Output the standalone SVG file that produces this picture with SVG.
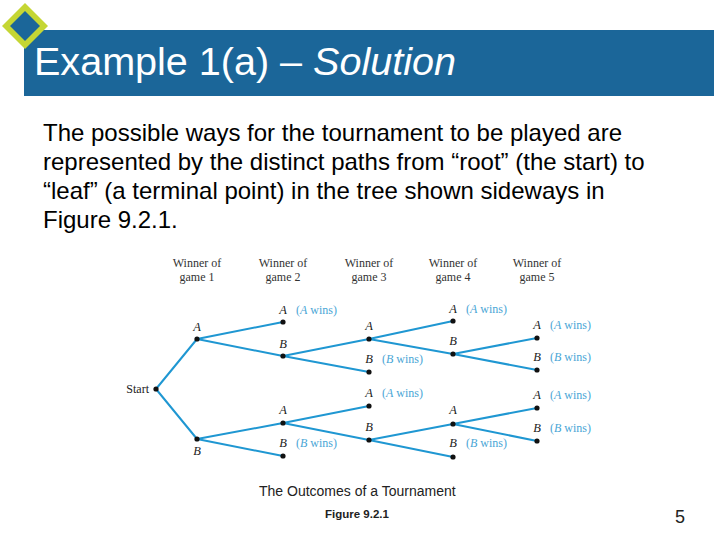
<svg xmlns="http://www.w3.org/2000/svg" width="720" height="540" viewBox="0 0 720 540">
<style>
.title{font-family:"Liberation Sans",Arial,sans-serif;font-size:38px;fill:#fff}
.body{font-family:"Liberation Sans",Arial,sans-serif;font-size:24px;fill:#000}
.hdr{font-family:"Liberation Serif","Times New Roman",serif;font-size:12px;fill:#333;text-anchor:middle}
.lbl{font-family:"Liberation Serif","Times New Roman",serif;font-size:12.5px;font-style:italic;fill:#222;text-anchor:middle}
.win{font-family:"Liberation Serif","Times New Roman",serif;font-size:12px;fill:#4aa6d6}
.win tspan{font-style:italic}
.edge{stroke:#1f97d2;stroke-width:2;fill:none;stroke-linecap:round}
.dot{fill:#111}
.cap{font-family:"Liberation Sans",Arial,sans-serif;fill:#222}
</style>
<rect width="720" height="540" fill="#fff"/>
<g id="header">
<rect x="24" y="30" width="690" height="66" fill="#1b6699"/>
<polygon points="25,3 48,26 25,49 2,26" fill="#c5d634"/>
<polygon points="25,11 40,26 25,41 10,26" fill="#1b6699"/>
<text class="title" x="34" y="75" textLength="422" lengthAdjust="spacingAndGlyphs">Example 1(a) – <tspan font-style="italic">Solution</tspan></text>
</g>
<g id="body-text">
<text class="body" x="43" y="141">The possible ways for the tournament to be played are</text>
<text class="body" x="43" y="170">represented by the distinct paths from “root” (the start) to</text>
<text class="body" x="43" y="199">“leaf” (a terminal point) in the tree shown sideways in</text>
<text class="body" x="43" y="228">Figure 9.2.1.</text>
</g>
<g id="column-headers">
<text class="hdr" x="197" y="267">Winner of</text><text class="hdr" x="197" y="281">game 1</text>
<text class="hdr" x="283" y="267">Winner of</text><text class="hdr" x="283" y="281">game 2</text>
<text class="hdr" x="369" y="267">Winner of</text><text class="hdr" x="369" y="281">game 3</text>
<text class="hdr" x="453" y="267">Winner of</text><text class="hdr" x="453" y="281">game 4</text>
<text class="hdr" x="537" y="267">Winner of</text><text class="hdr" x="537" y="281">game 5</text>
</g>
<g id="connectors">
<line class="edge" x1="156" y1="389" x2="197" y2="339"/>
<line class="edge" x1="156" y1="389" x2="197" y2="439"/>
<line class="edge" x1="197" y1="339" x2="283" y2="322"/>
<line class="edge" x1="197" y1="339" x2="283" y2="356"/>
<line class="edge" x1="197" y1="439" x2="283" y2="423"/>
<line class="edge" x1="197" y1="439" x2="283" y2="456"/>
<line class="edge" x1="283" y1="356" x2="369" y2="339"/>
<line class="edge" x1="283" y1="356" x2="369" y2="372"/>
<line class="edge" x1="283" y1="423" x2="369" y2="406"/>
<line class="edge" x1="283" y1="423" x2="369" y2="440"/>
<line class="edge" x1="369" y1="339" x2="453" y2="321"/>
<line class="edge" x1="369" y1="339" x2="453" y2="354"/>
<line class="edge" x1="369" y1="440" x2="453" y2="424"/>
<line class="edge" x1="369" y1="440" x2="453" y2="457"/>
<line class="edge" x1="453" y1="354" x2="537" y2="338"/>
<line class="edge" x1="453" y1="354" x2="537" y2="370"/>
<line class="edge" x1="453" y1="424" x2="537" y2="408"/>
<line class="edge" x1="453" y1="424" x2="537" y2="441"/>
</g>
<g id="start"><circle class="dot" cx="156" cy="389" r="2.6"/><text x="149" y="393" font-family="Liberation Serif,serif" font-size="12" fill="#222" text-anchor="end">Start</text></g>
<g id="g1-A"><circle class="dot" cx="197" cy="339" r="2.6"/><text class="lbl" x="197" y="331">A</text></g>
<g id="g1-B"><circle class="dot" cx="197" cy="439" r="2.6"/><text class="lbl" x="197" y="455">B</text></g>
<g id="g2-AA"><circle class="dot" cx="283" cy="322" r="2.6"/><text class="lbl" x="283" y="314">A</text><text class="win" x="296" y="314">(<tspan>A</tspan> wins)</text></g>
<g id="g2-AB"><circle class="dot" cx="283" cy="356" r="2.6"/><text class="lbl" x="283" y="348">B</text></g>
<g id="g2-BA"><circle class="dot" cx="283" cy="423" r="2.6"/><text class="lbl" x="283" y="414">A</text></g>
<g id="g2-BB"><circle class="dot" cx="283" cy="456" r="2.6"/><text class="lbl" x="283" y="447">B</text><text class="win" x="296" y="447">(<tspan>B</tspan> wins)</text></g>
<g id="g3-ABA"><circle class="dot" cx="369" cy="339" r="2.6"/><text class="lbl" x="369" y="330">A</text></g>
<g id="g3-ABB"><circle class="dot" cx="369" cy="372" r="2.6"/><text class="lbl" x="369" y="363">B</text><text class="win" x="382" y="363">(<tspan>B</tspan> wins)</text></g>
<g id="g3-BAA"><circle class="dot" cx="369" cy="406" r="2.6"/><text class="lbl" x="369" y="397">A</text><text class="win" x="382" y="397">(<tspan>A</tspan> wins)</text></g>
<g id="g3-BAB"><circle class="dot" cx="369" cy="440" r="2.6"/><text class="lbl" x="369" y="431">B</text></g>
<g id="g4-ABAA"><circle class="dot" cx="453" cy="321" r="2.6"/><text class="lbl" x="453" y="313">A</text><text class="win" x="466" y="313">(<tspan>A</tspan> wins)</text></g>
<g id="g4-ABAB"><circle class="dot" cx="453" cy="354" r="2.6"/><text class="lbl" x="453" y="345">B</text></g>
<g id="g4-BABA"><circle class="dot" cx="453" cy="424" r="2.6"/><text class="lbl" x="453" y="414">A</text></g>
<g id="g4-BABB"><circle class="dot" cx="453" cy="457" r="2.6"/><text class="lbl" x="453" y="447">B</text><text class="win" x="466" y="447">(<tspan>B</tspan> wins)</text></g>
<g id="g5-ABABA"><circle class="dot" cx="537" cy="338" r="2.6"/><text class="lbl" x="537" y="329">A</text><text class="win" x="550" y="329">(<tspan>A</tspan> wins)</text></g>
<g id="g5-ABABB"><circle class="dot" cx="537" cy="370" r="2.6"/><text class="lbl" x="537" y="361">B</text><text class="win" x="550" y="361">(<tspan>B</tspan> wins)</text></g>
<g id="g5-BABAA"><circle class="dot" cx="537" cy="408" r="2.6"/><text class="lbl" x="537" y="399">A</text><text class="win" x="550" y="399">(<tspan>A</tspan> wins)</text></g>
<g id="g5-BABAB"><circle class="dot" cx="537" cy="441" r="2.6"/><text class="lbl" x="537" y="432">B</text><text class="win" x="550" y="432">(<tspan>B</tspan> wins)</text></g>
<g id="caption">
<text class="cap" x="259" y="496" font-size="14">The Outcomes of a Tournament</text>
<text class="cap" x="325" y="518" font-size="11.5" font-weight="bold">Figure 9.2.1</text>
<text class="cap" x="675" y="523" font-size="18" fill="#000">5</text>
</g>
</svg>
